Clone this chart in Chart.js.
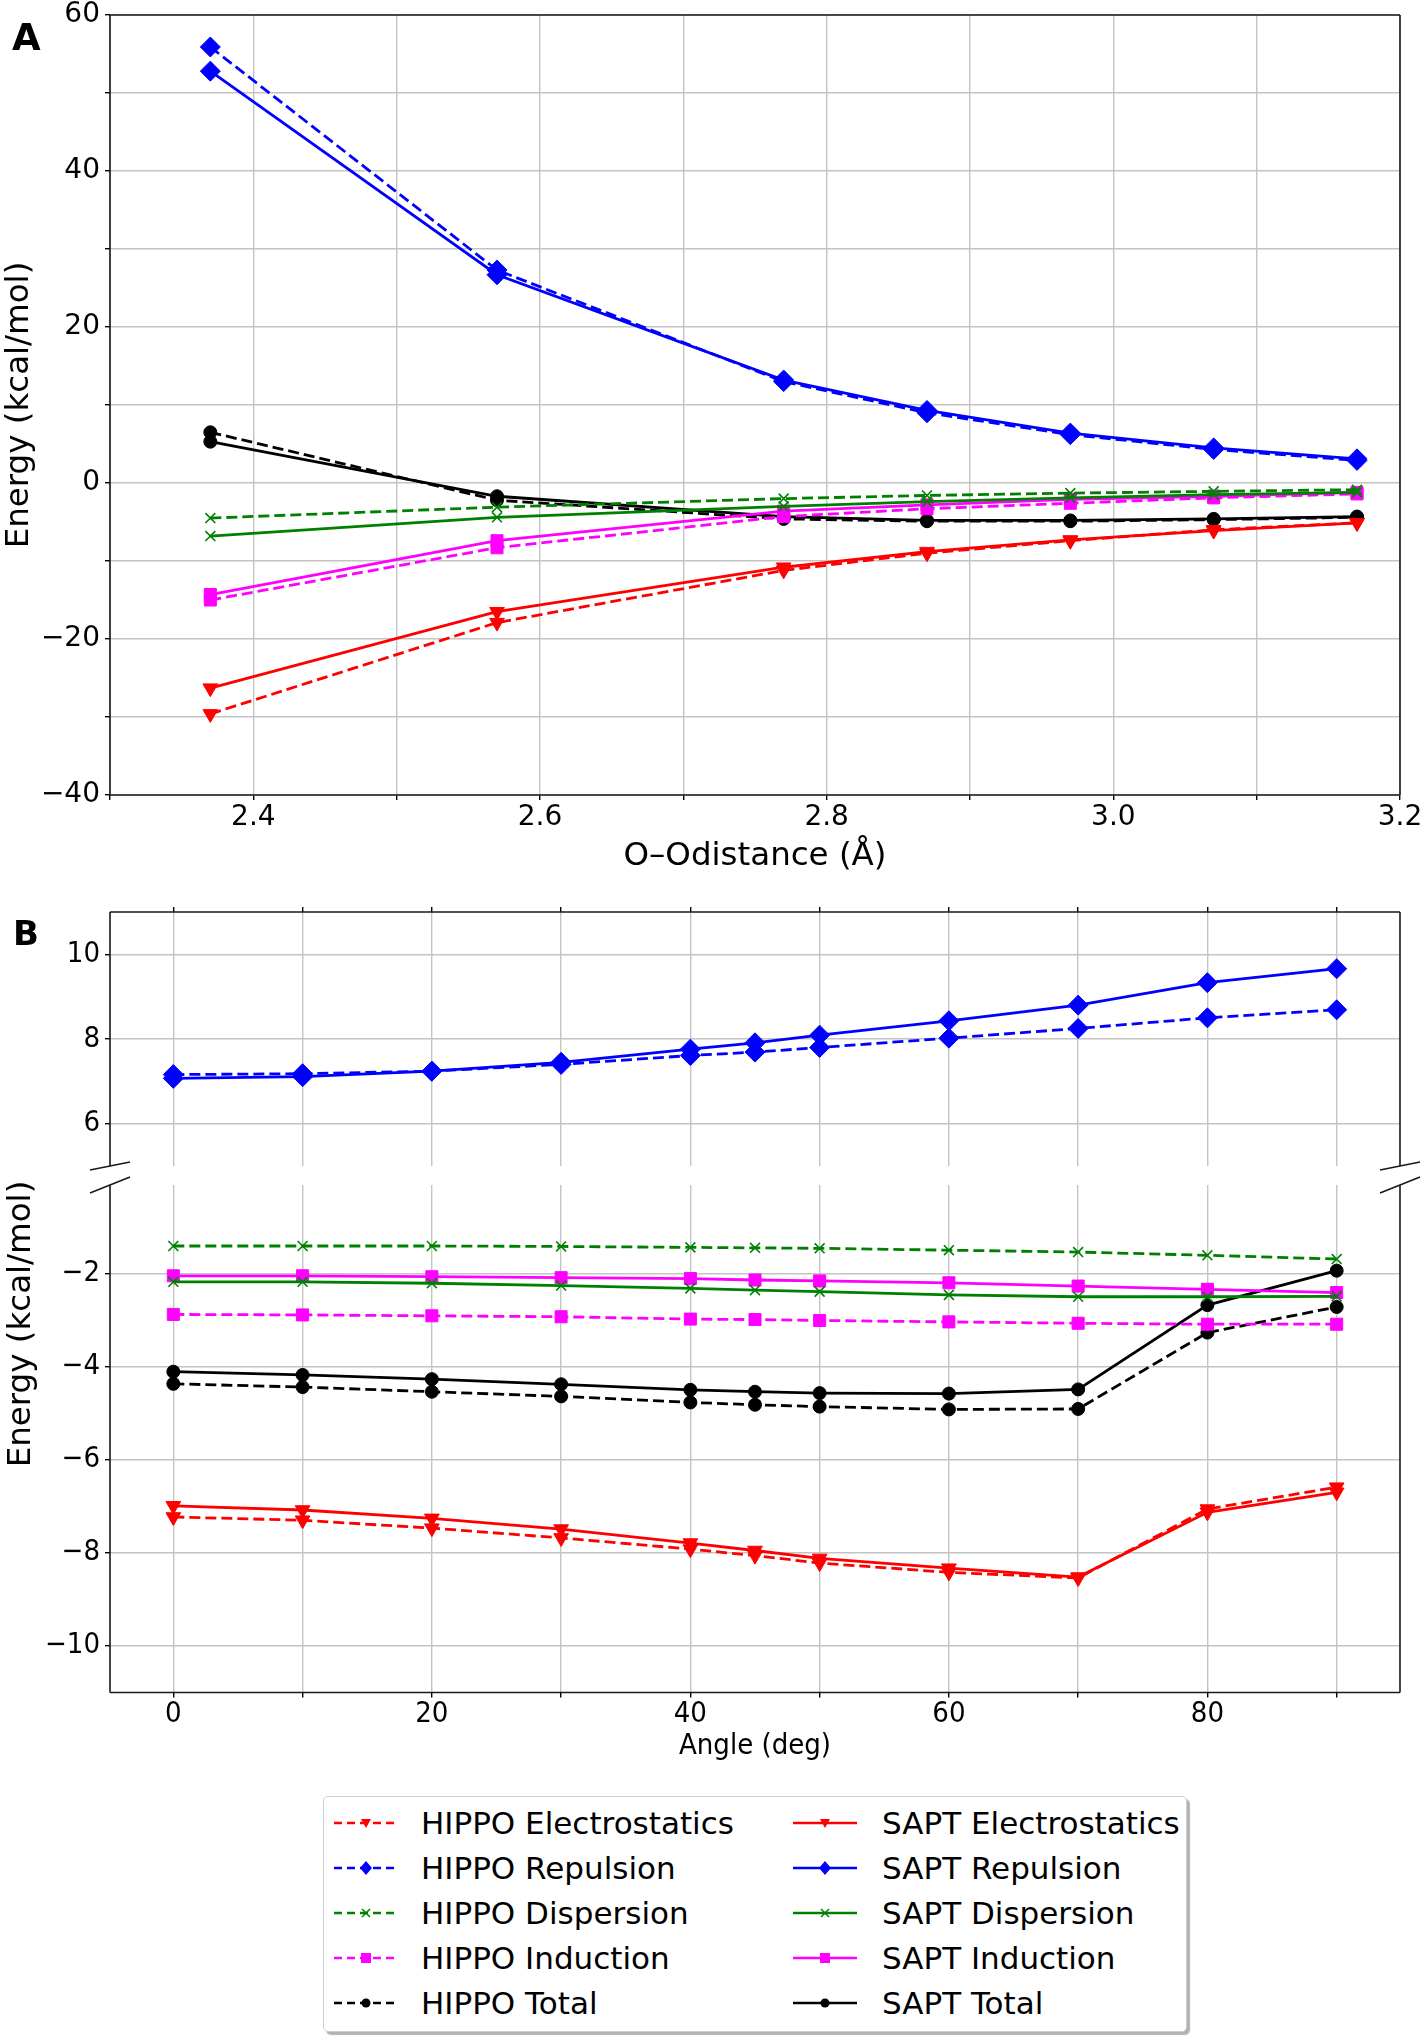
<!DOCTYPE html>
<html>
<head>
<meta charset="utf-8">
<script src="https://cdn.jsdelivr.net/npm/chart.js@4.4.1/dist/chart.umd.min.js"></script>
<style>
  html, body { margin: 0; padding: 0; background: #fff; }
  #page { position: relative; width: 1426px; height: 2040px; overflow: hidden; font-family: "DejaVu Sans", sans-serif; color: #000; }
  canvas { position: absolute; left: 0; }
  .tag { position: absolute; font-weight: bold; line-height: 1; }
  #ylabB { position: absolute; left: 19px; top: 1324px; transform: translate(-50%, -50%) rotate(-90deg); font-size: 32.5px; white-space: nowrap; }
  #legend { position: absolute; left: 323px; top: 1796px; width: 864px; height: 236px; box-sizing: border-box;
            border: 1px solid #cfcfcf; border-radius: 5px; background: #fff; box-shadow: 3px 3px 1px rgba(0,0,0,0.3); }
  .lg-text { position: absolute; font-size: 31px; line-height: 36px; white-space: nowrap; }
  .lg-icon { position: absolute; }
</style>
</head>
<body>
<div id="page">
  <canvas id="chartA" width="1426" height="880" style="top:0"></canvas>
  <canvas id="chartB1" width="1426" height="300" style="top:880px"></canvas>
  <canvas id="chartB2" width="1426" height="610" style="top:1160px"></canvas>
  <div class="tag" style="left:12px; top:19px; font-size:37px;">A</div>
  <div class="tag" style="left:13px; top:916px; font-size:34px;">B</div>
  <div id="ylabB">Energy (kcal/mol)</div>
  <div id="legend"></div>
</div>
<script>
(function () {
  "use strict";

  // Panel A: energy vs O-O distance
  const distA = [2.37, 2.57, 2.77, 2.87, 2.97, 3.07, 3.17];
  const hippoElstA = [-29.6, -17.9, -11.2, -9.0, -7.4, -6.0, -5.1];
  const saptElstA = [-26.3, -16.5, -10.8, -8.8, -7.3, -6.1, -5.1];
  const hippoRepA = [55.9, 27.3, 13.0, 9.0, 6.2, 4.3, 2.9];
  const saptRepA = [52.8, 26.7, 13.2, 9.3, 6.4, 4.5, 3.1];
  const hippoDispA = [-4.5, -3.1, -2.0, -1.6, -1.3, -1.07, -0.86];
  const saptDispA = [-6.8, -4.4, -3.0, -2.4, -1.9, -1.5, -1.2];
  const hippoIndA = [-15.0, -8.3, -4.3, -3.3, -2.6, -1.9, -1.4];
  const saptIndA = [-14.3, -7.4, -3.6, -2.8, -2.1, -1.7, -1.2];
  const hippoTotA = [6.5, -2.2, -4.6, -4.9, -4.9, -4.7, -4.4];
  const saptTotA = [5.3, -1.7, -4.3, -4.8, -4.8, -4.6, -4.3];

  // Panel B: energy vs angle
  const angleB = [0, 10, 20, 30, 40, 45, 50, 60, 70, 80, 90];
  const hippoElstB = [-7.23, -7.30, -7.47, -7.68, -7.92, -8.06, -8.22, -8.42, -8.54, -7.06, -6.59];
  const saptElstB = [-6.99, -7.08, -7.26, -7.49, -7.79, -7.95, -8.12, -8.33, -8.52, -7.13, -6.70];
  const hippoRepB = [7.16, 7.18, 7.24, 7.40, 7.61, 7.69, 7.80, 8.02, 8.25, 8.50, 8.69];
  const saptRepB = [7.07, 7.11, 7.24, 7.45, 7.76, 7.91, 8.09, 8.43, 8.80, 9.33, 9.66];
  const hippoDispB = [-1.41, -1.41, -1.41, -1.42, -1.44, -1.45, -1.46, -1.50, -1.54, -1.61, -1.69];
  const saptDispB = [-2.18, -2.18, -2.21, -2.26, -2.32, -2.36, -2.39, -2.46, -2.50, -2.50, -2.49];
  const hippoIndB = [-2.88, -2.89, -2.91, -2.93, -2.98, -2.99, -3.01, -3.04, -3.07, -3.09, -3.09];
  const saptIndB = [-2.05, -2.05, -2.07, -2.09, -2.11, -2.14, -2.16, -2.20, -2.27, -2.34, -2.41];
  const hippoTotB = [-4.37, -4.44, -4.54, -4.64, -4.77, -4.82, -4.86, -4.92, -4.91, -3.27, -2.72];
  const saptTotB = [-4.11, -4.18, -4.27, -4.38, -4.50, -4.54, -4.57, -4.58, -4.49, -2.68, -1.94];

  // terms, colours, markers
  const termNames = ["Electrostatics", "Repulsion", "Dispersion", "Induction", "Total"];
  const termColors = ["#ff0000", "#0000ff", "#008000", "#ff00ff", "#000000"];
  const termMarkers = ["triangle", "rectRot", "crossRot", "rect", "circle"];

  // tick positions
  const xTicksA = [2.3, 2.4, 2.5, 2.6, 2.7, 2.8, 2.9, 3.0, 3.1, 3.2];
  const yTicksA = [-40, -30, -20, -10, 0, 10, 20, 30, 40, 50, 60];
  const xTicksB = [0, 10, 20, 30, 40, 50, 60, 70, 80, 90];
  const yTicksUpper = [6, 8, 10];
  const yTicksLower = [-10, -8, -6, -4, -2];

  const markerSize = { triangle: 8.5, rectRot: 10, crossRot: 7, rect: 8.5, circle: 6.5 };
  const FONT = "DejaVu Sans";
  const FONT_B = "'DejaVu Sans Condensed', 'DejaVu Sans'";

  Chart.defaults.font.family = FONT;
  Chart.defaults.color = "#000";
  Chart.defaults.animation = false;

  const minus = s => String(s).replace("-", "\u2212");

  function mkSet(prog, t, xs, ys) {
    const c = termColors[t], st = termMarkers[t];
    return {
      label: prog + " " + termNames[t],
      data: xs.map((x, i) => ({ x: x, y: ys[i] })),
      borderColor: c,
      backgroundColor: c,
      pointBackgroundColor: c,
      pointBorderColor: c,
      borderWidth: 2.8,
      borderDash: prog === "HIPPO" ? [11, 5] : [],
      pointStyle: st,
      pointRotation: st === "triangle" ? 180 : 0,
      pointRadius: markerSize[st],
      pointHoverRadius: markerSize[st],
      pointBorderWidth: st === "crossRot" ? 1.6 : 1,
      tension: 0,
      fill: false
    };
  }

  function fixTicks(list) {
    return s => { s.ticks = list.map(v => ({ value: v })); };
  }

  function fitY(s) {
    s.width = 110;
    s.paddingTop = s.paddingBottom = s.paddingLeft = s.paddingRight = 0;
  }

  function fitX(h) {
    return s => {
      s.height = h;
      s.paddingTop = s.paddingBottom = s.paddingLeft = s.paddingRight = 0;
    };
  }

  const gridOpts = { color: "#c4c4c4", lineWidth: 1.4, tickColor: "#000", tickWidth: 1.4, tickLength: 5, drawTicks: true };

  // spines and break marks
  const spines = {
    id: "spines",
    afterDatasetsDraw(chart, args, opts) {
      const { left, right, top, bottom } = chart.chartArea;
      const ctx = chart.ctx;
      ctx.save();
      ctx.strokeStyle = "#1a1a1a";
      ctx.lineWidth = 1.6;
      ctx.beginPath();
      const sides = opts.sides || "";
      if (sides.includes("t")) { ctx.moveTo(left, top); ctx.lineTo(right, top); }
      if (sides.includes("b")) { ctx.moveTo(left, bottom); ctx.lineTo(right, bottom); }
      if (sides.includes("l")) { ctx.moveTo(left, top); ctx.lineTo(left, bottom); }
      if (sides.includes("r")) { ctx.moveTo(right, top); ctx.lineTo(right, bottom); }
      ctx.stroke();
      if (opts.brk) {
        const y = opts.brk.at === "top" ? top : bottom;
        const d = opts.brk.dy;
        ctx.beginPath();
        [left, right].forEach(x => { ctx.moveTo(x - 20, y + d); ctx.lineTo(x + 20, y - d); });
        ctx.stroke();
      }
      ctx.restore();
    }
  };

  // Panel A
  new Chart(document.getElementById("chartA"), {
    type: "line",
    data: {
      datasets: [
        mkSet("HIPPO", 0, distA, hippoElstA), mkSet("SAPT", 0, distA, saptElstA),
        mkSet("HIPPO", 1, distA, hippoRepA), mkSet("SAPT", 1, distA, saptRepA),
        mkSet("HIPPO", 2, distA, hippoDispA), mkSet("SAPT", 2, distA, saptDispA),
        mkSet("HIPPO", 3, distA, hippoIndA), mkSet("SAPT", 3, distA, saptIndA),
        mkSet("HIPPO", 4, distA, hippoTotA), mkSet("SAPT", 4, distA, saptTotA)
      ]
    },
    options: {
      responsive: false,
      devicePixelRatio: 1,
      layout: { padding: { left: 0, right: 26, top: 15, bottom: 0 } },
      plugins: { legend: { display: false }, tooltip: { enabled: false }, spines: { sides: "tblr" } },
      scales: {
        x: {
          type: "linear", min: 2.3, max: 3.2,
          grid: gridOpts, border: { display: false },
          afterBuildTicks: fixTicks(xTicksA), afterFit: fitX(85),
          ticks: {
            padding: 4, maxRotation: 0, autoSkip: false,
            font: { size: 28, lineHeight: 1 },
            callback: v => (Math.round(v * 10) % 2 === 0 ? v.toFixed(1) : "")
          },
          title: { display: true, text: "O\u2013Odistance (\u00c5)", font: { size: 32.5, lineHeight: 1.2 }, padding: { top: 0, bottom: 4 } }
        },
        y: {
          type: "linear", min: -40, max: 60,
          grid: gridOpts, border: { display: false },
          afterBuildTicks: fixTicks(yTicksA), afterFit: fitY,
          ticks: {
            padding: 5, autoSkip: false,
            font: { size: 28, lineHeight: 1 },
            callback: v => (v % 20 === 0 ? minus(v) : "")
          },
          title: { display: true, text: "Energy (kcal/mol)", font: { size: 32.5, lineHeight: 1.2 }, padding: { top: 0, bottom: 0 } }
        }
      }
    },
    plugins: [spines]
  });

  // Panel B, upper part (repulsion)
  new Chart(document.getElementById("chartB1"), {
    type: "line",
    data: {
      datasets: [mkSet("HIPPO", 1, angleB, hippoRepB), mkSet("SAPT", 1, angleB, saptRepB)]
    },
    options: {
      responsive: false,
      devicePixelRatio: 1,
      layout: { padding: { left: 0, right: 26, top: 0, bottom: 14 } },
      plugins: { legend: { display: false }, tooltip: { enabled: false }, spines: { sides: "tlr", brk: { at: "bottom", dy: 4 } } },
      scales: {
        x: {
          type: "linear", position: "top", min: -4.9, max: 94.9,
          grid: gridOpts, border: { display: false },
          afterBuildTicks: fixTicks(xTicksB), afterFit: fitX(32),
          ticks: { display: false }
        },
        y: {
          type: "linear", min: 5, max: 11,
          grid: gridOpts, border: { display: false },
          afterBuildTicks: fixTicks(yTicksUpper), afterFit: fitY,
          ticks: { padding: 5, autoSkip: false, font: { family: FONT_B, size: 29, lineHeight: 1 }, callback: v => minus(v) }
        }
      }
    },
    plugins: [spines]
  });

  // Panel B, lower part
  new Chart(document.getElementById("chartB2"), {
    type: "line",
    data: {
      datasets: [
        mkSet("HIPPO", 0, angleB, hippoElstB), mkSet("SAPT", 0, angleB, saptElstB),
        mkSet("HIPPO", 2, angleB, hippoDispB), mkSet("SAPT", 2, angleB, saptDispB),
        mkSet("HIPPO", 3, angleB, hippoIndB), mkSet("SAPT", 3, angleB, saptIndB),
        mkSet("HIPPO", 4, angleB, hippoTotB), mkSet("SAPT", 4, angleB, saptTotB)
      ]
    },
    options: {
      responsive: false,
      devicePixelRatio: 1,
      layout: { padding: { left: 0, right: 26, top: 25, bottom: 0 } },
      plugins: { legend: { display: false }, tooltip: { enabled: false }, spines: { sides: "blr", brk: { at: "top", dy: 8 } } },
      scales: {
        x: {
          type: "linear", min: -4.9, max: 94.9,
          grid: gridOpts, border: { display: false },
          afterBuildTicks: fixTicks(xTicksB), afterFit: fitX(77.5),
          ticks: {
            padding: 2, maxRotation: 0, autoSkip: false,
            font: { family: FONT_B, size: 29, lineHeight: 1 },
            callback: v => (v % 20 === 0 ? String(v) : "")
          },
          title: { display: true, text: "Angle (deg)", font: { family: FONT_B, size: 29, lineHeight: 1.2 }, padding: { top: 0, bottom: 6 } }
        },
        y: {
          type: "linear", min: -11, max: -0.1,
          grid: gridOpts, border: { display: false },
          afterBuildTicks: fixTicks(yTicksLower), afterFit: fitY,
          ticks: { padding: 5, autoSkip: false, font: { family: FONT_B, size: 29, lineHeight: 1 }, callback: v => minus(v) }
        }
      }
    },
    plugins: [spines]
  });

  // Legend: HIPPO column (dashed) and SAPT column (solid)
  function markerSvg(st, c) {
    const cx = 32, cy = 10;
    switch (st) {
      case "triangle": return `<polygon points="${cx - 5},${cy - 4} ${cx + 5},${cy - 4} ${cx},${cy + 5}" fill="${c}"/>`;
      case "rectRot": return `<polygon points="${cx},${cy - 7} ${cx + 6},${cy} ${cx},${cy + 7} ${cx - 6},${cy}" fill="${c}"/>`;
      case "crossRot": return `<path d="M${cx - 4} ${cy - 4}L${cx + 4} ${cy + 4}M${cx - 4} ${cy + 4}L${cx + 4} ${cy - 4}" stroke="${c}" stroke-width="1.5"/>`;
      case "rect": return `<rect x="${cx - 5}" y="${cy - 5}" width="10" height="10" fill="${c}"/>`;
      default: return `<circle cx="${cx}" cy="${cy}" r="4.5" fill="${c}"/>`;
    }
  }

  const legend = document.getElementById("legend");
  ["HIPPO", "SAPT"].forEach((prog, col) => {
    termNames.forEach((name, r) => {
      const cy = 25.7 + 45 * r;
      const lineX = col ? 469 : 10;
      const textX = col ? 558 : 97;
      const c = termColors[r];
      const dash = prog === "HIPPO" ? ' stroke-dasharray="8,5"' : "";
      const icon = document.createElement("div");
      icon.className = "lg-icon";
      icon.style.left = lineX + "px";
      icon.style.top = (cy - 10) + "px";
      icon.innerHTML = `<svg width="64" height="20"><line x1="0" y1="10" x2="64" y2="10" stroke="${c}" stroke-width="2.5"${dash}/>${markerSvg(termMarkers[r], c)}</svg>`;
      legend.appendChild(icon);
      const txt = document.createElement("div");
      txt.className = "lg-text";
      txt.style.left = textX + "px";
      txt.style.top = (cy - 18) + "px";
      txt.textContent = prog + " " + name;
      legend.appendChild(txt);
    });
  });
})();
</script>
</body>
</html>
